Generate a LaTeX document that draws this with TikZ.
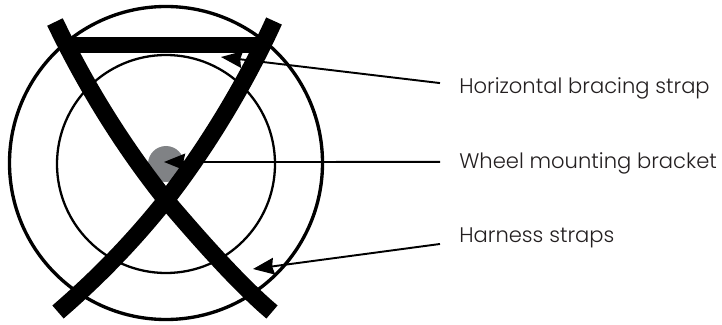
\documentclass[tikz,border=0pt]{standalone}
\usepackage{fontspec}
\setmainfont{Poppins Light}
\usetikzlibrary{arrows.meta}
\definecolor{bracketgray}{RGB}{128, 130, 133}
\definecolor{labeltext}{RGB}{35, 31, 32}
\tikzset{
  rim/.style={black, line width=1.9pt},
  strap/.style={black, line width=9.8pt},
  pointer/.style={black, line width=1.1pt, -{Stealth[length=12pt, width=9.5pt, inset=1pt]}},
  partlabel/.style={anchor=west, text=labeltext, font=\fontsize{12pt}{14pt}\selectfont, inner xsep=10.8pt, inner ysep=0pt}
}
\begin{document}
\begin{tikzpicture}[x=0.02cm, y=-0.02cm]
  \useasboundingbox (0,0) rectangle (722,324);

  % wheel
  \draw[rim] (166,163) circle (156.5);
  \draw[rim, line width=1.3pt] (166,164) circle (109);
  \fill[bracketgray] (166,164) circle (18);

  % harness straps
  \draw[strap] (55,22) .. controls (90,95) and (130,155) .. (166,200) .. controls (200,240) and (240,285) .. (272,312);
  \draw[strap] (274,21) .. controls (245,85) and (205,150) .. (166,200) .. controls (130,245) and (95,280) .. (58,312);

  % bracing strap
  \draw[strap, line width=8.8pt] (63,45) -- (262,45);

  % labels
  \node[partlabel] (horizlabel) at (440,88) {Horizontal bracing strap};
  \node[partlabel] (bracketlabel) at (440,163) {Wheel mounting bracket};
  \node[partlabel] (harnesslabel) at (440,238) {Harness straps};

  % arrow tips
  \coordinate (horiztip) at (221,57);
  \coordinate (brackettip) at (164,162);
  \coordinate (harnesstip) at (253,269);

  \draw[pointer] ([yshift=2.8pt]horizlabel.west) -- (horiztip);
  \draw[pointer] ([yshift=0.6pt]bracketlabel.west) -- (brackettip);
  \draw[pointer] ([yshift=-3.4pt]harnesslabel.west) -- (harnesstip);
\end{tikzpicture}
\end{document}
